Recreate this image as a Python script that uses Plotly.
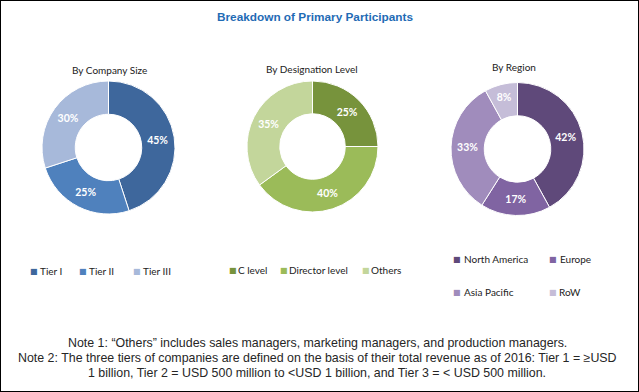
import plotly.graph_objects as go

W, H = 639, 392

size_labels = ["Tier I", "Tier II", "Tier III"]
size_values = [45, 25, 30]
size_colors = ["#3E679C", "#4F81BD", "#A7B9DA"]

desig_labels = ["C level", "Director level", "Others"]
desig_values = [25, 40, 35]
desig_colors = ["#77933C", "#9BBB59", "#C3D69B"]

region_labels = ["North America", "Europe", "Asia Pacific", "RoW"]
region_values = [42, 17, 33, 8]
region_colors = ["#5F497A", "#8064A2", "#A08CBC", "#C5BDD8"]

title_text = "Breakdown of Primary Participants"
sub_titles = ["By Company Size", "By Designation Level", "By Region"]
notes = [
    "Note 1: \u201cOthers\u201d includes sales managers, marketing managers, and production managers.",
    "Note 2: The three tiers of companies are defined on the basis of their total revenue as of 2016: Tier 1 = \u2265USD",
    "1 billion, Tier 2 = USD 500 million to <USD 1 billion, and Tier 3 = < USD 500 million.",
]

BODY = "Lato, 'Open Sans', sans-serif"
SANS = "'Liberation Sans', Arial, sans-serif"


def px_x(x):
    return x / W


def px_y(y):
    return 1 - y / H


def dom(cx, cy, r):
    return dict(x=[px_x(cx - r), px_x(cx + r)], y=[px_y(cy + r), px_y(cy - r)])


fig = go.Figure()

specs = [
    (size_labels, size_values, size_colors, (108.5, 147.5, 66.5)),
    (desig_labels, desig_values, desig_colors, (312.5, 146.5, 65.5)),
    (region_labels, region_values, region_colors, (517.5, 149, 66.5)),
]
for labels, values, colors, (cx, cy, r) in specs:
    fig.add_trace(go.Pie(
        labels=labels, values=values, hole=0.5, sort=False, direction="clockwise",
        marker=dict(colors=colors, line=dict(color="white", width=1)),
        texttemplate="<b>%{value}%</b>", textposition="inside",
        insidetextorientation="horizontal",
        textfont=dict(family=BODY, size=10.5, color="white"),
        domain=dom(cx, cy, r), showlegend=False, hoverinfo="label+percent",
    ))

fig.update_layout(
    width=W, height=H,
    margin=dict(l=0, r=0, t=0, b=0),
    paper_bgcolor="white", plot_bgcolor="white",
)

annotations = [
    dict(text="<b>" + title_text + "</b>", x=px_x(315), y=px_y(17), xanchor="center",
         font=dict(family=SANS, size=11.8, color="#1F6BB5")),
    dict(text=sub_titles[0], x=px_x(110), y=px_y(70), xanchor="center", font=dict(family=BODY, size=10, color="#222222")),
    dict(text=sub_titles[1], x=px_x(312), y=px_y(69), xanchor="center", font=dict(family=BODY, size=10, color="#222222")),
    dict(text=sub_titles[2], x=px_x(514), y=px_y(67), xanchor="center", font=dict(family=BODY, size=10, color="#222222")),
]
for line, yy in zip(notes, [343, 358, 373]):
    annotations.append(dict(text=line, x=px_x(317), y=px_y(yy), xanchor="center",
                            font=dict(family=SANS, size=12.4, color="#262626")))

# legend entries: (marker centre x, text left x, y)
legend_pos = {
    "size": [(33.5, 39, 271), (83, 88, 271), (136.5, 142, 271)],
    "desig": [(233, 237, 270), (283.5, 288, 270), (365.5, 370, 270)],
    "region": [(456.5, 463, 259), (552.5, 559, 259), (456.5, 463, 292), (552.5, 558, 292)],
}
for key, labels, colors in [("size", size_labels, size_colors),
                            ("desig", desig_labels, desig_colors),
                            ("region", region_labels, region_colors)]:
    for (mx, tx, yy), lab, col in zip(legend_pos[key], labels, colors):
        annotations.append(dict(text="\u25A0", x=px_x(mx), y=px_y(yy), xanchor="center",
                                font=dict(family="'DejaVu Sans'", size=8, color=col)))
        annotations.append(dict(text=lab, x=px_x(tx), y=px_y(yy), xanchor="left",
                                font=dict(family=BODY, size=10, color="#222222")))

for a in annotations:
    a.update(xref="paper", yref="paper", showarrow=False, yanchor="middle", borderpad=0)
fig.update_layout(annotations=annotations)

fig.add_shape(type="rect", xref="paper", yref="paper", x0=0, x1=1, y0=0, y1=1,
              line=dict(color="black", width=2), fillcolor="rgba(0,0,0,0)")

fig.write_html("out.html", config={"displayModeBar": False},
               post_script="document.body.style.margin='0px';document.body.style.overflow='hidden';")
